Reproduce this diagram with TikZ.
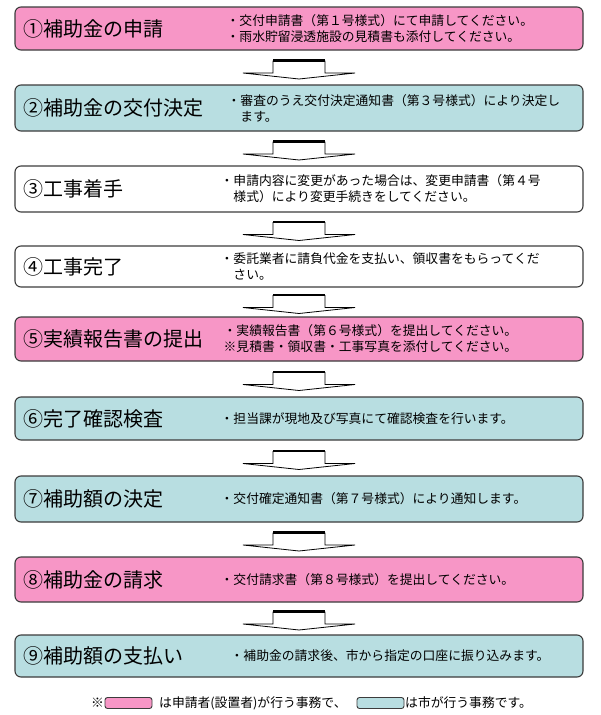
\documentclass[tikz,border=0pt]{standalone}
\usepackage{fontspec}
\setmainfont{Noto Sans CJK JP}
\usetikzlibrary{calc}
\definecolor{pinkfill}{RGB}{247,150,198}
\definecolor{bluefill}{RGB}{184,222,225}
\definecolor{edge}{RGB}{60,60,60}
\tikzset{
  stepbox/.style={draw=edge, line width=1.1pt, rounded corners=6pt, minimum width=568pt, inner sep=0pt},
  applicant/.style={stepbox, fill=pinkfill},
  city/.style={stepbox, fill=bluefill},
  neutral/.style={stepbox, fill=white},
  steplabel/.style={anchor=west, inner sep=0pt, font=\fontsize{20}{22}\selectfont},
  desc/.style={anchor=west, inner sep=0pt, align=left, font=\fontsize{12.8}{16}\selectfont},
  flowline/.style={draw=black, line width=0.8pt, fill=white, line join=miter},
  flowtop/.style={draw=black, line width=2.4pt},
  legendbox/.style={draw=edge, line width=0.9pt, rounded corners=2.5pt, minimum width=47pt, minimum height=11pt, inner sep=0pt},
  legendtext/.style={anchor=west, inner sep=0pt, font=\fontsize{12.8}{15}\selectfont},
}
\newcommand\flowarrow[3]{%
  \coordinate (#3) at ($(#1.south)!0.5!(#2.north)$);
  \draw[flowline] ($(#3)+(-26,-6.5)$) -- ($(#3)+(-26,5.5)$) -- ($(#3)+(-56,5.5)$)
     -- ($(#3)+(0,11.5)$) -- ($(#3)+(56,5.5)$) -- ($(#3)+(26,5.5)$) -- ($(#3)+(26,-6.5)$) -- cycle;
  \draw[flowtop] ($(#3)+(-26,-7)$) -- ($(#3)+(26,-7)$);
}
\begin{document}
\begin{tikzpicture}[x=1pt,y=-1pt]
\useasboundingbox[fill=white] (0,0) rectangle (600,715);

% boxes
\node[applicant, minimum height=43pt] (b1) at (299,28.5) {};
\node[city,      minimum height=46pt] (b2) at (299,108) {};
\node[neutral,   minimum height=46pt] (b3) at (299,189) {};
\node[neutral,   minimum height=41pt] (b4) at (299,266.5) {};
\node[applicant, minimum height=44pt] (b5) at (299,339) {};
\node[city,      minimum height=43pt] (b6) at (299,418.5) {};
\node[city,      minimum height=46pt] (b7) at (299,499) {};
\node[applicant, minimum height=45pt] (b8) at (299,579.5) {};
\node[city,      minimum height=42pt] (b9) at (299,656) {};

% step labels
\node[steplabel] (l1) at ($(b1.west)+(9,0)$) {①補助金の申請};
\node[steplabel] (l2) at ($(b2.west)+(9,0)$) {②補助金の交付決定};
\node[steplabel] (l3) at ($(b3.west)+(9,0)$) {③工事着手};
\node[steplabel] (l4) at ($(b4.west)+(9,0)$) {④工事完了};
\node[steplabel] (l5) at ($(b5.west)+(9,0)$) {⑤実績報告書の提出};
\node[steplabel] (l6) at ($(b6.west)+(9,0)$) {⑥完了確認検査};
\node[steplabel] (l7) at ($(b7.west)+(9,0)$) {⑦補助額の決定};
\node[steplabel] (l8) at ($(b8.west)+(9,0)$) {⑧補助金の請求};
\node[steplabel] (l9) at ($(b9.west)+(9,0)$) {⑨補助額の支払い};

% descriptions
\node[desc] (d1) at ($(b1.west)+(212,0)$) {・交付申請書（第１号様式）にて申請してください。\\・雨水貯留浸透施設の見積書も添付してください。};
\node[desc] (d2) at ($(b2.west)+(213,0)$) {・審査のうえ交付決定通知書（第３号様式）により決定し\\\hspace*{1em}ます。};
\node[desc] (d3) at ($(b3.west)+(206,0)$) {・申請内容に変更があった場合は、変更申請書（第４号\\\hspace*{1em}様式）により変更手続きをしてください。};
\node[desc] (d4) at ($(b4.west)+(206,0)$) {・委託業者に請負代金を支払い、領収書をもらってくだ\\\hspace*{1em}さい。};
\node[desc] (d5) at ($(b5.west)+(209,0)$) {・実績報告書（第６号様式）を提出してください。\\※見積書・領収書・工事写真を添付してください。};
\node[desc] (d6) at ($(b6.west)+(206,0)$) {・担当課が現地及び写真にて確認検査を行います。};
\node[desc] (d7) at ($(b7.west)+(206,0)$) {・交付確定通知書（第７号様式）により通知します。};
\node[desc] (d8) at ($(b8.west)+(206,0)$) {・交付請求書（第８号様式）を提出してください。};
\node[desc] (d9) at ($(b9.west)+(216,0)$) {・補助金の請求後、市から指定の口座に振り込みます。};

% arrows
\flowarrow{b1}{b2}{m1}
\flowarrow{b2}{b3}{m2}
\flowarrow{b3}{b4}{m3}
\flowarrow{b4}{b5}{m4}
\flowarrow{b5}{b6}{m5}
\flowarrow{b6}{b7}{m6}
\flowarrow{b7}{b8}{m7}
\flowarrow{b8}{b9}{m8}

% legend
\node[legendtext] (k) at (91,703) {※};
\node[legendbox, fill=pinkfill] (lp) at (128.5,703) {};
\node[legendtext] (t1) at (159,703) {は申請者(設置者)が行う事務で、};
\node[legendbox, fill=bluefill] (lb) at (380.5,703) {};
\node[legendtext] (t2) at (405,703) {は市が行う事務です。};
\end{tikzpicture}
\end{document}
